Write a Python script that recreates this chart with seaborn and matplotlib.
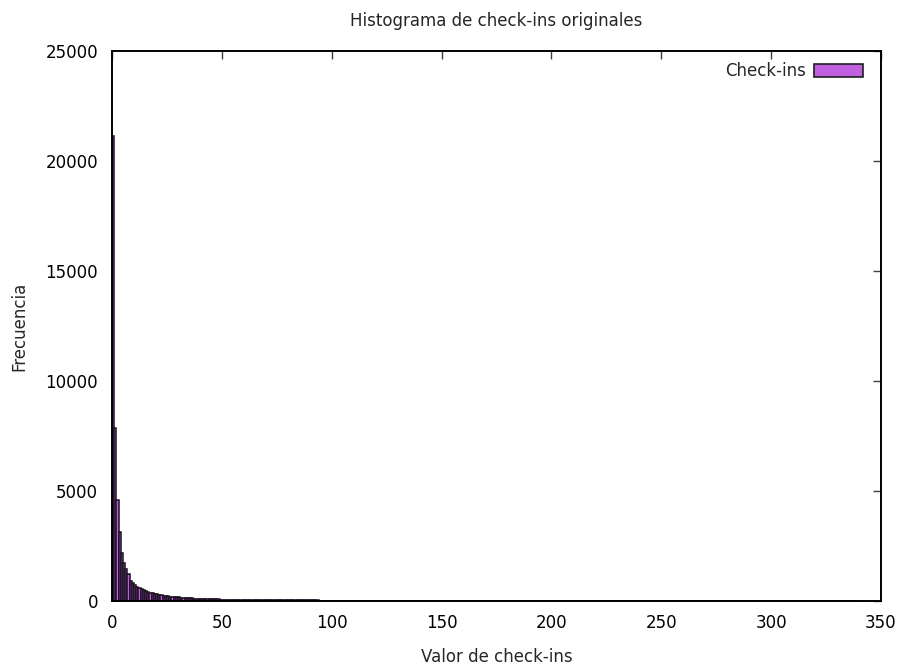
import numpy as np
import pandas as pd
import matplotlib
matplotlib.use("Agg")
import matplotlib.pyplot as plt
import seaborn as sns
from matplotlib.patches import Patch

# ---- data ----
# frequencies for check-in values 0..166 (one bin per integer value)
freq_dense = [
    21150, 7850, 4580, 3150, 2200, 1740, 1440, 1220, 930, 800,
    710, 640, 580, 530, 480, 440, 400, 370, 345, 320,
    300, 280, 260, 245, 230, 215, 200, 190, 180, 170,
    160, 152, 145, 138, 130, 124, 118, 112, 107, 102,
    98, 94, 90, 86, 82, 78, 75, 72, 70, 68,
    65, 62, 60,
    58, 56, 54, 52, 50, 48, 47, 45, 44, 42,
    41, 40, 39, 38, 37, 36, 35, 35, 34, 33,
    32, 32, 31, 30, 30, 29, 29, 28, 28, 27,
    27, 26, 26, 25, 25, 25, 24, 24, 23, 23,
    23, 22, 22, 22, 21, 21, 21, 20, 20, 20,
    19, 19, 19, 18, 18, 18, 18, 17, 17, 17,
    17, 16, 16, 16, 16, 15, 15, 15, 15, 14,
    14, 14, 14, 13, 13, 13, 0, 13, 12, 12,
    12, 12, 12, 0, 11, 11, 11, 11, 11, 10,
    10, 10, 10, 10, 9, 9, 9, 9, 9, 8,
    8, 8, 8, 8, 7, 7, 7, 7, 7, 6,
    6, 6, 6, 6,
]
# sparse tail: check-in values and their frequencies
tail_values = [167, 168, 171, 172, 174, 175, 176, 177, 178, 179,
               182, 183, 184, 185, 186, 187, 188, 189, 190, 191,
               192, 193, 194, 195, 196, 197, 201, 202, 203, 205,
               206, 207, 230, 231, 232, 237, 238, 240, 241, 242,
               255, 256, 262, 263, 269, 270, 334, 335, 336, 338,
               339, 340, 341]
tail_counts = [5, 4, 4, 3, 3, 3, 3, 2, 3, 2,
               2, 3, 2, 2, 3, 2, 2, 3, 2, 2,
               3, 2, 2, 2, 2, 2, 2, 2, 2, 2,
               2, 2, 2, 2, 2, 2, 2, 2, 2, 2,
               2, 2, 2, 2, 2, 2, 2, 2, 2, 2,
               2, 2, 2]

x_ticks = [0, 50, 100, 150, 200, 250, 300, 350]
y_ticks = [0, 5000, 10000, 15000, 20000, 25000]

title = "Histograma de check-ins originales"
xlabel = "Valor de check-ins"
ylabel = "Frecuencia"
legend_label = "Check-ins"

# ---- build table ----
df = pd.DataFrame({
    "valor": list(range(len(freq_dense))) + tail_values,
    "freq": freq_dense + tail_counts,
})

sns.set_style("white")
plt.rcParams["font.family"] = ["DejaVu Sans"]

fig = plt.figure(figsize=(9.09, 6.66), dpi=100)
ax = fig.add_axes([112 / 909, 1 - 601 / 666, (881 - 112) / 909, (601 - 51) / 666])

fill = "#c05fe0"
sns.histplot(data=df, x="valor", weights="freq", binwidth=1, binrange=(0, 342),
             color=fill, edgecolor="#1a1020", linewidth=1.1, alpha=1.0, ax=ax)

ax.set_xlim(0, 350)
ax.set_ylim(0, 25000)
ax.set_xticks(x_ticks)
ax.set_yticks(y_ticks)
ax.tick_params(direction="in", length=6, width=1, colors="#404040",
               top=True, right=True, labelsize=12, labelcolor="black", pad=9)
ax.tick_params(axis="y", pad=10)
for s in ax.spines.values():
    s.set_linewidth(1.4)
    s.set_color("black")
    s.set_visible(True)

ax.set_xlabel(xlabel, fontsize=12, labelpad=12)
ax.set_ylabel(ylabel, fontsize=12, labelpad=12)
ax.set_title(title, fontsize=12, pad=18)

handle = Patch(facecolor=fill, edgecolor="#202020", linewidth=1.2)
ax.legend([handle], [legend_label], loc="upper right", frameon=False,
          bbox_to_anchor=(1.0, 1.013),
          markerfirst=False, fontsize=12, handlelength=2.9, handleheight=0.8,
          borderaxespad=0.7, handletextpad=0.5)

fig.savefig("out.png", dpi=100)
